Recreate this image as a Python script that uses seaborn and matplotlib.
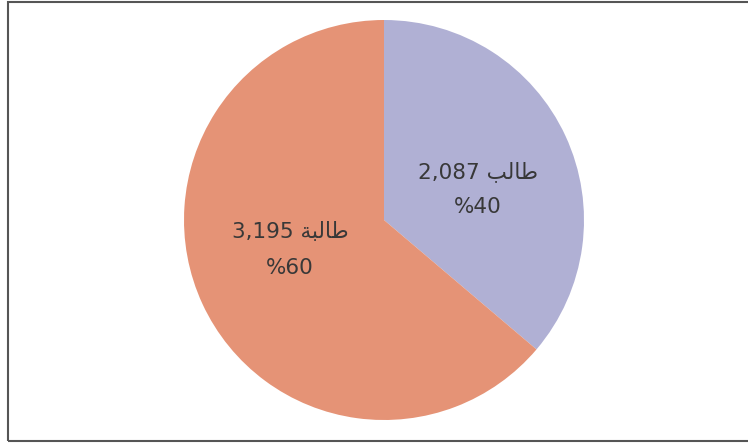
import matplotlib
matplotlib.use("Agg")
import matplotlib.pyplot as plt
import seaborn as sns
from matplotlib.patches import Rectangle

sns.set_theme(style="white")
plt.rcParams["font.family"] = ["DejaVu Sans"]

# Arabic words in visual order with presentation forms (matplotlib does no shaping)
groups = ["\uFE90\uFEDF\uFE8E\uFEC3",          # طالب
          "\uFE94\uFE92\uFEDF\uFE8E\uFEC3"]    # طالبة
counts = [2087, 3195]
shares = [40, 60]
# slice sizes as drawn in the picture (percent of circle)
slice_sizes = [36.2, 63.8]
colors = ["#B0B0D4", "#E59376"]

labels = [f"{c:,} {g}\n%{s}" for g, c, s in zip(groups, counts, shares)]

fig = plt.figure(figsize=(7.48, 4.43), dpi=100)
ax = fig.add_axes([184 / 748, 23 / 443, 400 / 748, 400 / 443])
ax.pie(slice_sizes, colors=colors, startangle=90, counterclock=False,
       radius=1, wedgeprops=dict(linewidth=0))
for lab, (x, y) in zip(labels, [(0.47, 0.155), (-0.47, -0.15)]):
    ax.text(x, y, lab, ha="center", va="center", color="#383838",
            fontsize=15.5, linespacing=1.95)
ax.set_xlim(-1, 1); ax.set_ylim(-1, 1)
ax.set_aspect("equal")
ax.axis("off")

fig.patches.append(Rectangle((8 / 748, 2 / 443), 1.0, 439 / 443, transform=fig.transFigure,
                             fill=False, edgecolor="#555555", linewidth=1.5))

fig.savefig("out.png", dpi=100, facecolor="white")
